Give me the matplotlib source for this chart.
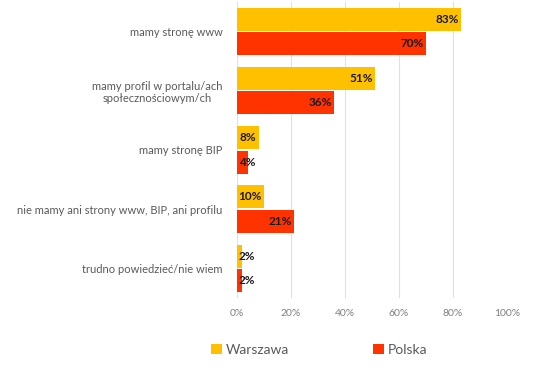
import matplotlib.pyplot as plt
import numpy as np

plt.rcParams['font.family'] = ['Lato', 'DejaVu Sans']

categories = [
    'mamy stronę www',
    'mamy profil w portalu/ach\nspołecznościowym/ch',
    'mamy stronę BIP',
    'nie mamy ani strony www, BIP, ani profilu',
    'trudno powiedzieć/nie wiem',
]
warszawa = [0.83, 0.51, 0.08, 0.10, 0.02]
polska = [0.70, 0.36, 0.04, 0.21, 0.02]
series_names = ['Warszawa', 'Polska']
colors = ['#FFC000', '#FF3300']
x_ticks = [0, 0.2, 0.4, 0.6, 0.8, 1.0]

fig = plt.figure(figsize=(5.5, 3.71), dpi=100)
ax = fig.add_axes([0.431, 0.197, 0.491, 0.798])

y = np.arange(len(categories))
h = 0.39
gap = 0.022
off = h / 2 + gap / 2

for vals, name, col, dy in [(warszawa, series_names[0], colors[0], -off),
                            (polska, series_names[1], colors[1], off)]:
    ax.barh(y + dy, vals, height=h, color=col, label=name, zorder=2)
    for yi, v in zip(y, vals):
        txt = f'{int(round(v * 100))}%'
        if v < 0.07:
            ax.text(0.007, yi + dy, txt, ha='left', va='center',
                    fontsize=8.5, fontweight='bold', color='#1a1a1a', zorder=3)
        else:
            ax.text(v - 0.008, yi + dy, txt, ha='right', va='center',
                    fontsize=8.5, fontweight='bold', color='#1a1a1a', zorder=3)

ax.set_ylim(len(categories) - 0.5, -0.5)
ax.set_xlim(0, 1.0)
ax.set_yticks(y)
ax.set_yticklabels(categories, fontsize=8, color='#595959')
for lab in ax.get_yticklabels():
    lab.set_multialignment('center')
ax.set_xticks(x_ticks)
ax.set_xticklabels([f'{int(t * 100)}%' for t in x_ticks], fontsize=7.5, color='#7f7f7f')
ax.tick_params(axis='y', length=0, pad=10.5)
ax.tick_params(axis='x', length=0, pad=8)
ax.grid(axis='x', color='#e0e0e0', linewidth=0.8, zorder=0)
for s in ax.spines.values():
    s.set_visible(False)

fig.legend(loc='center', bbox_to_anchor=(0.58, 0.057), ncol=2, frameon=False,
           fontsize=10, handlelength=0.8, handleheight=0.8, handletextpad=0.3,
           columnspacing=6.0, labelcolor='#595959')

fig.savefig('out.png', dpi=100)
